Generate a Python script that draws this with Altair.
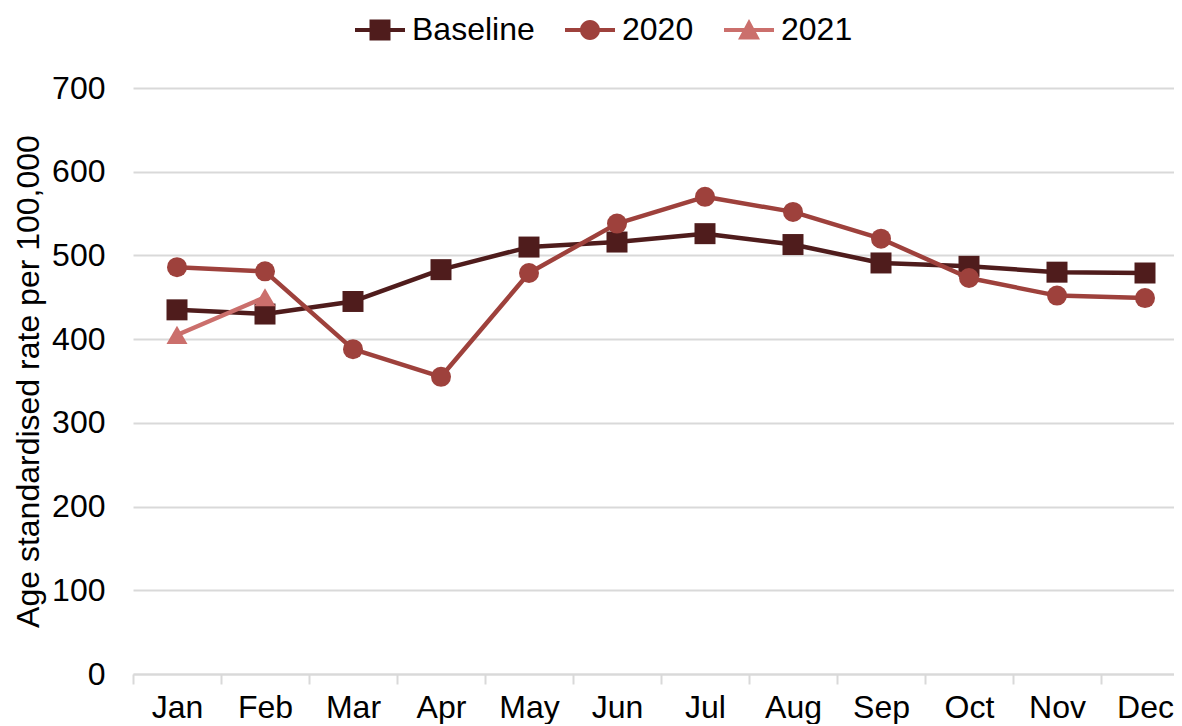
import altair as alt
import pandas as pd

months = ["Jan", "Feb", "Mar", "Apr", "May", "Jun", "Jul", "Aug", "Sep", "Oct", "Nov", "Dec"]
baseline = [435, 430, 445, 483, 510, 516, 526, 513, 491, 487, 480, 479]
rate_2020 = [486, 481, 388, 355, 479, 538, 570, 552, 520, 473, 452, 449]
rate_2021 = [405, 450]
series_names = ["Baseline", "2020", "2021"]
series_colors = ["#4f1c1c", "#9e413c", "#cb6f6c"]
marker_shapes = ["square", "circle", "triangle-up"]
marker_sizes = [441, 400, 440]
legend_paths = [
    "M-1,-0.08H1V0.08H-1Z M-0.42,-0.42H0.42V0.42H-0.42Z",
    "M-1,-0.08H1V0.08H-1Z M-0.4,0 A0.4,0.4 0 1,1 0.4,0 A0.4,0.4 0 1,1 -0.4,0Z",
    "M-1,-0.08H1V0.08H-1Z M0,-0.44 L0.44,0.38 L-0.44,0.38Z",
]

rows = []
for name, vals in zip(series_names, [baseline, rate_2020, rate_2021]):
    for m, v in zip(months, vals):
        rows.append({"month": m, "rate": v, "series": name})
df = pd.DataFrame(rows)

FONT = "Liberation Sans"
GRID = "#d9d9d9"

x_enc = alt.X(
    "month:N",
    sort=months,
    scale=alt.Scale(type="band", domain=months, paddingInner=0, paddingOuter=0),
    axis=alt.Axis(
        title=None,
        labelAngle=0,
        labelFont=FONT,
        labelFontSize=32,
        labelColor="#000000",
        labelPadding=8,
        tickBand="extent",
        tickSize=10,
        tickColor=GRID,
        tickWidth=2,
        domainColor=GRID,
        domainWidth=2,
        grid=False,
    ),
)
y_enc = alt.Y(
    "rate:Q",
    scale=alt.Scale(domain=[0, 700], nice=False),
    axis=alt.Axis(
        title="Age standardised rate per 100,000",
        titleFont=FONT,
        titleFontSize=32,
        titleFontWeight="normal",
        titleColor="#000000",
        titleX=-95,
        titleY=293,
        titleAlign="center",
        titleBaseline="alphabetic",
        titleAngle=270,
        values=list(range(0, 701, 100)),
        labelFont=FONT,
        labelFontSize=32,
        labelColor="#000000",
        labelPadding=28,
        ticks=False,
        tickSize=0,
        domain=False,
        grid=True,
        gridColor=GRID,
        gridWidth=2,
    ),
)
color_scale = alt.Scale(domain=series_names, range=series_colors)

layers = []
for name, col, shp, sz in zip(series_names, series_colors, marker_shapes, marker_sizes):
    base = alt.Chart(df).transform_filter(alt.datum.series == name)
    line = base.mark_line(color=col, strokeWidth=4.5, strokeJoin="round", strokeCap="round").encode(
        x=x_enc, y=y_enc,
    )
    pts = base.mark_point(shape=shp, filled=True, size=sz, opacity=1, strokeWidth=0, color=col).encode(
        x=x_enc, y=y_enc,
    )
    layers += [line, pts]

leg = alt.Legend(
    title=None,
    orient="none",
    legendX=222,
    legendY=-83,
    direction="horizontal",
    labelFont=FONT,
    labelFontSize=32,
    labelColor="#000000",
    labelOffset=7,
    columnPadding=30,
    symbolSize=2500,
    symbolStrokeWidth=0,
    symbolOpacity=1,
    padding=0,
)
legend_layer = alt.Chart(df).mark_point(filled=True, opacity=0, size=2500).encode(
    x=x_enc, y=y_enc,
    shape=alt.Shape("series:N", scale=alt.Scale(domain=series_names, range=legend_paths), legend=leg),
    color=alt.Color("series:N", scale=color_scale, legend=leg),
)
layers.append(legend_layer)

chart = alt.layer(*layers).properties(
    width=1056,
    height=586,
    autosize=alt.AutoSizeParams(type="none"),
    padding={"left": 125, "top": 80, "right": -15, "bottom": 50},
    background="white",
).configure_view(stroke=None)

chart.save("out.html", embed_options={"renderer": "svg", "actions": False})
